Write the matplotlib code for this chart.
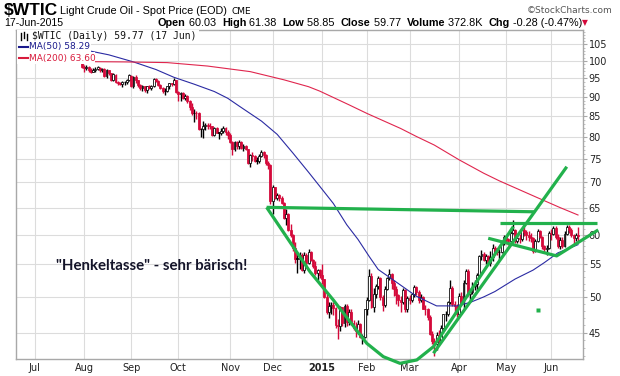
import matplotlib
matplotlib.use("Agg")
import matplotlib.pyplot as plt
from matplotlib.ticker import FixedLocator, NullFormatter, FixedFormatter
from matplotlib.patches import Rectangle
import numpy as np
import pandas as pd

# ---- data -----------------------------------------------------------------
holidays = ['2014-07-04', '2014-09-01', '2014-11-27', '2014-12-25', '2015-01-01',
            '2015-01-19', '2015-02-16', '2015-04-03', '2015-05-25']
first_bar = '2014-07-31'

opens = [
    100.3,
    98.2, 97.9, 98.2, 97.4, 96.9, 97.3, 97.7, 98.0, 97.3, 97.6, 95.6, 97.3, 96.4, 94.5, 96.0, 94.0, 93.6, 93.4, 93.9, 93.9, 94.6,
    95.8, 92.9, 95.5, 94.5, 93.2, 92.3, 92.8, 91.7, 92.8, 92.3, 92.9, 94.9, 94.4, 93.1, 92.4, 91.5, 91.6, 92.8, 93.6, 93.5, 94.5,
    91.2, 90.7, 91.0, 89.7, 90.3, 88.9, 87.3, 85.8, 85.8, 85.7, 81.8, 81.8, 82.7, 82.8, 82.7, 82.5, 80.5, 82.1, 81.0, 81.0, 81.4, 82.2, 81.1,
    80.5, 78.8, 77.2, 78.7, 77.9, 78.7, 77.4, 77.9, 77.2, 74.2, 75.8, 75.6, 74.6, 74.6, 75.6, 76.5, 75.8, 74.1, 73.7,
    66.2, 69.0, 66.9, 67.4, 66.8, 65.8, 63.1, 63.8, 60.9, 60.0, 57.8, 55.9, 55.9, 56.5, 54.1, 56.5, 55.3, 57.1, 55.8, 54.7, 53.6, 54.1,
    53.3, 52.7, 50.0, 47.9, 48.7, 48.8, 48.4, 46.1, 45.9, 48.5, 46.3, 48.7, 46.4, 47.8, 46.3, 45.6, 45.2, 46.2, 44.5, 44.5,
    48.2, 49.6, 53.1, 48.5, 50.5, 51.7, 52.9, 50.0, 48.8, 51.2, 52.8, 53.5, 52.1, 51.2, 50.3, 49.5, 49.2, 51.0, 48.2,
    49.8, 49.6, 50.5, 51.5, 50.8, 49.6, 50.0, 48.3, 48.2, 47.1, 44.8, 43.9, 43.5, 44.7, 44.0, 45.7, 47.5, 47.5, 49.2, 51.4, 48.9, 48.7,
    47.6, 50.1, 49.1, 52.1, 54.0, 50.4, 50.8, 51.6, 51.9, 53.3, 56.4, 56.7, 55.7, 56.4, 55.3, 56.2, 57.7, 57.2, 57.0, 57.1, 58.6,
    59.6, 59.2, 58.9, 60.4, 60.9, 58.9, 59.4, 59.3, 60.8, 60.5, 59.9, 59.7, 59.4, 57.3, 59.0, 60.7, 59.7, 58.0, 57.5, 57.7,
    60.3, 60.2, 61.3, 59.6, 58.0, 59.1, 58.1, 60.1, 61.4, 60.8, 60.0, 59.5, 60.03,
]
highs = [
    100.5,
    98.7, 98.8, 98.4, 97.8, 97.9, 98.3, 98.5, 98.2, 98.0, 97.8, 97.7, 97.4, 96.6, 96.4, 96.1, 94.4, 94.0, 94.3, 94.4, 94.7, 96.1,
    96.0, 95.6, 95.9, 94.6, 93.4, 93.1, 92.9, 93.0, 93.2, 93.3, 95.1, 95.2, 94.5, 93.4, 92.5, 92.3, 93.0, 93.7, 93.8, 95.2, 94.6,
    91.5, 91.4, 91.2, 90.7, 90.5, 89.1, 88.3, 86.7, 86.2, 86.0, 82.0, 83.7, 83.3, 83.4, 83.4, 82.7, 82.4, 82.3, 81.2, 82.0, 82.5, 82.4, 81.6,
    80.8, 79.0, 79.0, 79.0, 79.2, 79.0, 78.3, 78.1, 77.3, 76.1, 76.5, 75.8, 75.5, 76.1, 77.0, 76.8, 76.0, 74.5, 73.8,
    69.5, 69.1, 67.8, 67.7, 67.3, 66.0, 64.7, 64.0, 62.0, 60.2, 58.7, 56.9, 57.0, 56.9, 57.0, 56.9, 57.5, 57.3, 55.9, 55.5, 54.2, 54.2,
    55.1, 52.7, 50.5, 49.3, 49.3, 49.3, 48.6, 46.9, 48.7, 48.6, 49.0, 48.9, 48.2, 48.3, 46.7, 46.4, 46.7, 46.3, 44.9, 48.3,
    50.0, 54.2, 53.6, 51.3, 52.0, 53.1, 53.0, 50.3, 51.6, 53.0, 54.2, 53.6, 52.5, 51.6, 50.5, 50.2, 51.3, 51.2, 50.1,
    50.3, 50.6, 51.8, 51.7, 51.0, 50.4, 50.1, 48.8, 48.4, 47.4, 45.3, 44.3, 45.1, 45.4, 46.1, 47.6, 48.0, 49.4, 52.5, 51.6, 49.4, 49.0,
    50.6, 50.8, 52.5, 54.2, 54.2, 51.0, 52.2, 52.6, 53.6, 56.6, 57.4, 57.0, 56.7, 56.6, 57.2, 58.4, 58.0, 57.8, 57.6, 59.0, 59.9,
    59.9, 59.5, 60.6, 62.6, 61.1, 59.9, 60.1, 61.1, 61.4, 60.8, 60.6, 60.4, 59.7, 59.3, 61.0, 60.9, 59.8, 58.3, 58.2, 60.6,
    61.1, 61.6, 61.6, 60.1, 59.7, 59.6, 60.6, 61.7, 61.8, 61.2, 60.2, 60.3, 61.38,
]
lows = [
    97.8,
    96.9, 97.4, 96.9, 96.6, 96.8, 96.7, 97.3, 96.9, 96.7, 95.3, 95.2, 95.9, 94.2, 94.2, 93.7, 93.2, 93.1, 92.5, 93.2, 93.5, 94.3,
    92.5, 92.3, 93.7, 92.6, 91.9, 91.6, 91.2, 91.1, 92.0, 91.8, 92.6, 93.9, 92.8, 92.1, 90.9, 90.6, 91.3, 92.1, 92.9, 93.2, 90.9,
    88.9, 88.8, 89.3, 89.2, 88.5, 86.6, 85.4, 83.6, 84.2, 81.6, 80.0, 79.8, 81.6, 81.9, 81.8, 80.3, 80.1, 80.8, 79.4, 80.5, 81.0, 80.5, 79.5,
    78.5, 75.8, 76.7, 77.1, 77.3, 77.2, 76.8, 76.9, 73.8, 73.3, 74.6, 74.3, 73.8, 74.0, 75.5, 75.2, 73.6, 72.8, 65.7,
    63.7, 66.6, 66.5, 66.3, 65.7, 62.9, 61.7, 60.6, 59.6, 57.3, 55.3, 53.6, 54.3, 53.9, 53.6, 54.8, 55.0, 55.5, 54.4, 53.4, 52.6, 52.9,
    52.0, 49.9, 47.6, 47.0, 47.6, 47.4, 45.7, 44.2, 45.3, 45.9, 45.8, 45.9, 46.1, 46.1, 45.4, 44.4, 44.9, 44.3, 43.6, 44.3,
    47.4, 49.4, 48.4, 47.9, 49.9, 51.2, 49.6, 48.0, 48.6, 51.0, 52.6, 51.2, 50.2, 48.9, 48.7, 47.8, 48.9, 47.9, 47.8,
    48.9, 49.3, 50.0, 50.3, 49.1, 49.3, 48.2, 47.4, 46.7, 44.7, 43.6, 42.0, 42.8, 43.6, 43.9, 45.5, 46.6, 47.3, 49.0, 48.7, 47.7, 47.1,
    47.1, 48.8, 48.4, 51.9, 50.2, 49.6, 50.4, 51.1, 50.9, 53.0, 55.8, 55.5, 55.0, 55.0, 54.8, 55.6, 56.5, 56.5, 55.7, 56.9, 58.2,
    58.7, 58.3, 58.8, 60.2, 58.6, 58.6, 58.5, 58.9, 59.8, 59.1, 59.0, 58.7, 56.9, 57.1, 58.8, 59.5, 57.6, 57.0, 56.5, 57.5,
    59.1, 59.9, 59.3, 57.7, 57.6, 57.8, 57.9, 59.9, 60.3, 59.6, 58.4, 58.9, 58.85,
]
closes = [
    98.2,
    97.9, 98.3, 97.4, 96.9, 97.3, 97.7, 98.1, 97.4, 97.6, 95.6, 97.4, 96.4, 94.5, 96.1, 94.0, 93.7, 93.4, 93.9, 93.9, 94.6, 96.0,
    92.9, 95.5, 94.5, 93.3, 92.3, 92.8, 91.7, 92.8, 92.3, 92.9, 94.9, 94.4, 93.1, 92.4, 91.5, 91.6, 92.8, 93.6, 93.5, 94.6, 91.2,
    90.7, 91.0, 89.7, 90.3, 88.9, 87.3, 85.8, 85.8, 85.7, 81.8, 81.8, 82.7, 82.8, 82.7, 82.5, 80.5, 82.1, 81.0, 81.0, 81.4, 82.2, 81.1, 80.5,
    78.8, 77.2, 78.7, 77.9, 78.7, 77.4, 77.9, 77.2, 74.2, 75.8, 75.6, 74.6, 74.6, 75.6, 76.5, 75.8, 74.1, 73.7, 66.2,
    69.0, 66.9, 67.4, 66.8, 65.8, 63.1, 63.8, 60.9, 60.0, 57.8, 55.9, 55.9, 56.5, 54.1, 56.5, 55.3, 57.1, 55.8, 54.7, 53.6, 54.1, 53.3,
    52.7, 50.0, 47.9, 48.7, 48.8, 48.4, 46.1, 45.9, 48.5, 46.3, 48.7, 46.4, 47.8, 46.3, 45.6, 45.2, 46.2, 44.5, 44.5, 48.2,
    49.6, 53.1, 48.5, 50.5, 51.7, 52.9, 50.0, 48.8, 51.2, 52.8, 53.5, 52.1, 51.2, 50.3, 49.5, 49.2, 51.0, 48.2, 49.8,
    49.6, 50.5, 51.5, 50.8, 49.6, 50.0, 48.3, 48.2, 47.1, 44.8, 43.9, 43.5, 44.7, 44.0, 45.7, 47.5, 47.5, 49.2, 51.4, 48.9, 48.7, 47.6,
    50.1, 49.1, 52.1, 54.0, 50.4, 50.8, 51.6, 51.9, 53.3, 56.4, 56.7, 55.7, 56.4, 55.3, 56.2, 57.7, 57.2, 57.0, 57.1, 58.6, 59.6,
    59.2, 58.9, 60.4, 60.9, 58.9, 59.4, 59.3, 60.8, 60.5, 59.9, 59.7, 59.4, 57.3, 59.0, 60.7, 59.7, 58.0, 57.5, 57.7, 60.3,
    60.2, 61.3, 59.6, 58.0, 59.1, 58.1, 60.1, 61.4, 60.8, 60.0, 59.5, 60.0, 59.77,
]

ma50_dates = ['2014-07-30', '2014-08-06', '2014-08-18', '2014-09-03', '2014-09-17', '2014-09-29',
              '2014-10-10', '2014-10-23', '2014-10-31', '2014-11-07', '2014-11-21', '2014-12-03',
              '2014-12-12', '2014-12-23', '2015-01-02', '2015-01-09', '2015-01-20', '2015-01-27',
              '2015-02-03', '2015-02-09', '2015-02-23', '2015-03-05', '2015-03-18', '2015-03-31',
              '2015-04-09', '2015-04-17', '2015-04-24', '2015-05-07', '2015-05-19', '2015-05-27',
              '2015-06-04', '2015-06-17']
ma50_vals = [103.6, 102.9, 101.8, 99.7, 97.5, 95.3, 93.4, 91.4, 89.6, 87.6, 83.8, 80.6, 76.3,
             72.1, 68.6, 65.8, 61.8, 59.2, 56.3, 54.2, 52.0, 50.1, 48.7, 48.7, 49.2, 50.0,
             50.8, 52.7, 54.1, 55.3, 56.9, 58.29]

ma200_dates = ['2014-07-31', '2014-08-27', '2014-09-24', '2014-10-20', '2014-11-14', '2014-12-08',
               '2014-12-23', '2014-12-31', '2015-01-21', '2015-02-02', '2015-02-24', '2015-03-05',
               '2015-03-17', '2015-04-01', '2015-04-17', '2015-04-28', '2015-05-20', '2015-06-05',
               '2015-06-17']
ma200_vals = [99.8, 99.7, 99.5, 98.5, 96.9, 94.6, 92.7, 91.5, 87.9, 85.7, 82.0, 80.1, 78.1,
              74.8, 71.9, 70.3, 67.1, 65.0, 63.6]

month_labels = ['Jul', 'Aug', 'Sep', 'Oct', 'Nov', 'Dec', '2015', 'Feb', 'Mar', 'Apr', 'May', 'Jun']
price_ticks = [45, 50, 55, 60, 65, 70, 75, 80, 85, 90, 95, 100, 105]

# hand drawn annotation, in (trading day number, price)
rim_x, rim_p = [103.3, 222.9], [65.05, 64.2]
cup_x = [103.3, 122.6, 133.0, 147.9, 155.3, 162.7, 170.2, 177.6, 213.2]
cup_p = [65.05, 53.85, 49.55, 43.63, 41.95, 41.14, 41.55, 43.20, 61.47]
trend_x, trend_p = [177.6, 237.0], [42.37, 73.29]
wedge_top_x, wedge_top_p = [207.3, 250.4], [62.08, 62.08]
wedge_low_x, wedge_low_p = [202.0, 232.5, 251.0], [59.40, 56.4, 60.87]
dot_x, dot_p = 224.3, 48.12

# ---- layout ---------------------------------------------------------------
W, H = 620, 376
fig = plt.figure(figsize=(W / 100, H / 100), dpi=100)
fig.patch.set_facecolor('white')
ax = fig.add_axes([16 / W, 1 - 359.3 / H, (582.5 - 16) / W, (359.3 - 30) / H])

days = pd.bdate_range('2014-07-01', '2015-06-17')
days = days[~days.isin(pd.to_datetime(holidays))]
pos = {d: i for i, d in enumerate(days)}
start = pos[pd.Timestamp(first_bar)]

o = np.array(opens)
h = np.array(highs)
l = np.array(lows)
c = np.array(closes)
x = np.arange(start, start + len(c))

red = '#d4093a'
prev = np.r_[o[0], c[:-1]]
cols = np.where(c >= prev, 'black', red)
face = np.where(c > o, 'white', cols)

ax.vlines(x, l, h, colors=cols, lw=1.0, zorder=3)
ax.bar(x, np.maximum(np.abs(c - o), 0.08), bottom=np.minimum(o, c), width=0.85,
       color=face, edgecolor=cols, linewidth=0.55, zorder=4)

ma50_x = [pos[pd.Timestamp(d)] for d in ma50_dates]
ma200_x = [pos[pd.Timestamp(d)] for d in ma200_dates]
ax.plot(ma50_x, ma50_vals, color='#2b2ba3', lw=0.8, zorder=5)
ax.plot(ma200_x, ma200_vals, color='#e0264e', lw=0.8, zorder=5)

green = '#22b14c'
gkw = dict(color=green, lw=2.3, zorder=6, clip_on=False, solid_capstyle='butt')
ax.plot(rim_x, rim_p, **gkw)
ax.plot(cup_x, cup_p, **gkw)
ax.plot(trend_x, trend_p, **gkw)
ax.plot(wedge_top_x, wedge_top_p, **gkw)
ax.plot(wedge_low_x, wedge_low_p, **gkw)
ax.plot(dot_x, dot_p, 's', ms=2.6, color=green, mec='none', zorder=6)

ax.set_yscale('log')
ax.set_ylim(41.63, 109.5)
ax.set_xlim(-8.33, 244.0)

ax.yaxis.tick_right()
ax.yaxis.set_major_locator(FixedLocator(price_ticks))
ax.yaxis.set_major_formatter(FixedFormatter([str(t) for t in price_ticks]))
ax.yaxis.set_minor_locator(FixedLocator(range(42, 110)))
ax.yaxis.set_minor_formatter(NullFormatter())
ax.tick_params(axis='y', which='major', length=3, width=0.8, color='#a8a8a8',
               labelsize=7, labelcolor='#222222', pad=1.5)
ax.tick_params(axis='y', which='minor', length=1.5, width=0.6, color='#b8b8b8')

month_pos = [i for i in range(len(days)) if i == 0 or days[i].month != days[i - 1].month]
ax.set_xticks(month_pos)
ax.set_xticklabels(month_labels)
ax.tick_params(axis='x', length=0, labelsize=7, labelcolor='#222222', pad=3)
for lab in ax.get_xticklabels():
    if lab.get_text() == '2015':
        lab.set_fontweight('bold')

ax.grid(True, which='major', color='#dcdcdc', lw=0.8, zorder=0)
ax.set_axisbelow(True)
for sp in ax.spines.values():
    sp.set_color('#a8a8a8')
    sp.set_linewidth(1.0)


def fxy(px, py):
    return px / W, 1 - py / H


# in-chart legend with white backing
for x0, y0, x1, y1 in [(16.5, 30.5, 199, 41.5), (16.5, 41.5, 91, 52.5), (16.5, 52.5, 95, 63.5)]:
    fig.patches.append(Rectangle(fxy(x0, y1), (x1 - x0) / W, (y1 - y0) / H,
                                 transform=fig.transFigure, fc='white', ec='none', zorder=2))
fig.text(*fxy(31.5, 36), '$WTIC (Daily) 59.77 (17 Jun)', va='center', fontsize=7,
         family='DejaVu Sans Mono', color='#111111', zorder=3)
fig.text(*fxy(29.5, 47), 'MA(50) 58.29', va='center', fontsize=6.5, color='#1a1a8c', zorder=3)
fig.text(*fxy(29.5, 58), 'MA(200) 63.60', va='center', fontsize=6.5, color='#d81b3c', zorder=3)
fig.lines.append(plt.Line2D([19 / W, 28 / W], [1 - 47 / H] * 2, color='#1a1a8c', lw=1.5,
                            transform=fig.transFigure, zorder=3))
fig.lines.append(plt.Line2D([19 / W, 28 / W], [1 - 58 / H] * 2, color='#d81b3c', lw=1.5,
                            transform=fig.transFigure, zorder=3))
for gx, gy0, gy1 in [(20.5, 33, 40), (23.5, 32, 38), (26.5, 34, 40)]:
    fig.lines.append(plt.Line2D([gx / W] * 2, [1 - gy0 / H, 1 - gy1 / H], color='black', lw=1.0,
                                transform=fig.transFigure, zorder=3))

# annotation text
ax.text(*fxy(152, 266), '"Henkeltasse" - sehr bärisch!', transform=fig.transFigure,
        ha='center', va='center', fontsize=10.8, family='Lato', fontweight='bold', color='#15152a',
        zorder=7)

# header
renderer = fig.canvas.get_renderer()


def text_row(px, py, pieces):
    for s, kw in pieces:
        t = fig.text(*fxy(px, py), s, va='center', **kw)
        px += t.get_window_extent(renderer).width
    return px


hdr = dict(family='Liberation Sans', color='black')
xe = text_row(4, 10.5, [('$WTIC', dict(hdr, fontsize=12.5, fontweight='bold'))])
xe = text_row(xe + 2, 11, [('Light Crude Oil - Spot Price (EOD)', dict(hdr, fontsize=7.8))])
text_row(xe + 4, 11, [('CME', dict(family='DejaVu Sans', fontsize=6.5, color='black'))])
fig.text(*fxy(613, 10.5), '\u00a9StockCharts.com', ha='right', va='center', fontsize=6.5,
         family='DejaVu Sans', color='#555555')

fig.text(*fxy(4, 23), '17-Jun-2015', va='center', fontsize=7.6, **hdr)
b = dict(hdr, fontsize=7.8, fontweight='bold')
n = dict(hdr, fontsize=7.8)
row = [('Open', b), (' 60.03  ', n), ('High', b), (' 61.38  ', n), ('Low', b), (' 58.85  ', n),
       ('Close', b), (' 59.77  ', n), ('Volume', b), (' 372.8K  ', n), ('Chg', b),
       (' -0.28 (-0.47%)', n), ('\u25bc', dict(family='DejaVu Sans', fontsize=5.5, color=red))]
text_row(158, 23, row)

fig.savefig('out.png', dpi=100, facecolor='white')
